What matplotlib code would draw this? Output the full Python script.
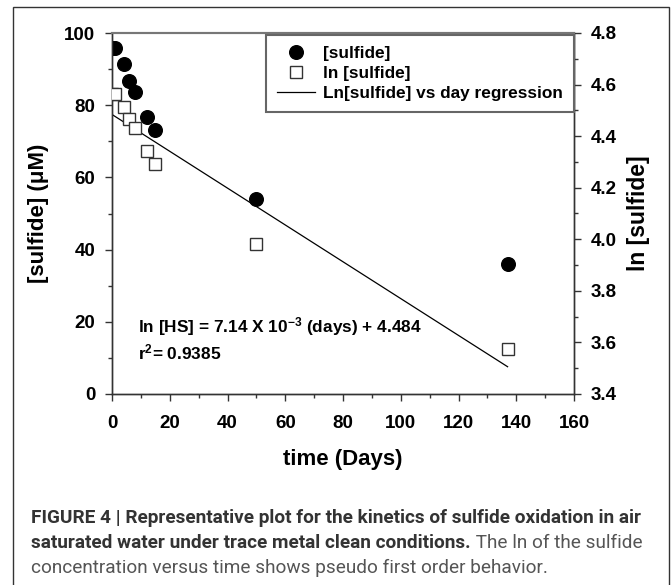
import numpy as np
import matplotlib
matplotlib.use("Agg")
import matplotlib.pyplot as plt
from matplotlib.ticker import MultipleLocator
from matplotlib.patches import Rectangle
from matplotlib.lines import Line2D

plt.rcParams['font.family'] = ['Liberation Sans', 'DejaVu Sans']
plt.rcParams['mathtext.fontset'] = 'custom'
plt.rcParams['mathtext.rm'] = 'Liberation Sans:bold'
plt.rcParams['mathtext.default'] = 'rm'

# data
days = [0, 1, 4, 6, 8, 12, 15, 50, 137]
sulfide = [95.8, 95.8, 91.3, 86.8, 83.7, 76.8, 73.1, 53.9, 35.9]
ln_sulfide = [4.562, 4.562, 4.514, 4.466, 4.430, 4.342, 4.292, 3.982, 3.574]
# regression from the annotation
slope = -7.14e-3
intercept = 4.484
fit_days = np.array([0, 137])

fig = plt.figure(figsize=(6.71, 5.85), dpi=100)
ax = fig.add_axes([112/671, 1-394/585, 462/671, 361/585])
ax2 = ax.twinx()

ax.plot(days, sulfide, 'o', color='black', ms=9.8, zorder=3)
ax2.plot(days, ln_sulfide, 's', mfc='white', mec='#333333', mew=1.0, ms=8.8, zorder=3)
ax2.plot(fit_days, intercept + slope * fit_days, '-', color='black', lw=0.9)

ax.set_xlim(0, 160)
ax.set_ylim(0, 100)
ax2.set_ylim(3.4, 4.8)
ax.xaxis.set_major_locator(MultipleLocator(20))
ax.xaxis.set_minor_locator(MultipleLocator(10))
ax.yaxis.set_major_locator(MultipleLocator(20))
ax.yaxis.set_minor_locator(MultipleLocator(10))
ax2.yaxis.set_major_locator(MultipleLocator(0.2))
ax2.yaxis.set_minor_locator(MultipleLocator(0.1))
ax2.set_yticklabels([f'{v:.1f}' for v in ax2.get_yticks()])

for a in (ax, ax2):
    a.tick_params(which='major', length=5, width=1, color='#333333', labelsize=13.5)
    a.tick_params(which='minor', length=3, width=1, color='#333333')
    for lab in a.get_xticklabels() + a.get_yticklabels():
        lab.set_fontweight('bold')
    for s in a.spines.values():
        s.set_color('#333333')
        s.set_linewidth(1)
    a.spines['top'].set_color('#777777')
    a.spines['top'].set_linewidth(1.5)
ax.tick_params(axis='x', pad=10)
ax.tick_params(axis='y', pad=7)
ax2.tick_params(axis='y', pad=7)

ax.set_xlabel('time (Days)', fontsize=16, fontweight='bold', labelpad=12)
ax.set_ylabel('[sulfide] (μM)', fontsize=16, fontweight='bold')
ax.yaxis.set_label_coords(-(112-49)/462, 0.5)
ax2.set_ylabel('ln [sulfide]', fontsize=16.5, fontweight='bold')
ax2.yaxis.set_label_coords(1+(627-574)/462, 0.5)

ax.text(9.0, 18.6, 'ln [HS] = 7.14 X 10$^{-3}$ (days) + 4.484', fontsize=12.4,
        fontweight='bold', va='center')
ax.text(9.0, 11.4, 'r$^{2}$= 0.9385', fontsize=12.4, fontweight='bold', va='center')

handles = [
    Line2D([], [], ls='none', marker='o', color='black', ms=9.8),
    Line2D([], [], ls='none', marker='s', mfc='white', mec='#333333', ms=8.8),
    Line2D([], [], color='black', lw=0.9),
]
labels = ['[sulfide]', 'ln [sulfide]', 'Ln[sulfide] vs day regression']
leg = ax2.legend(handles, labels, loc='upper right', bbox_to_anchor=(1, 1 - 2/361),
                 borderaxespad=0, fancybox=False, framealpha=1,
                 prop={'size': 12.4, 'weight': 'bold'}, handlelength=2.2,
                 handletextpad=0.47, labelspacing=0.28, borderpad=0.65)
leg.get_frame().set_edgecolor('#666666')
leg.get_frame().set_linewidth(1.5)

# outer frame of the figure panel
fig.patches.append(Rectangle((13/671, -0.05), (669-13)/671, 1.05-7/585,
                             transform=fig.transFigure, fill=False,
                             edgecolor='#333333', lw=1))

# caption
cap = dict(family=['Roboto', 'DejaVu Sans'], fontsize=13.7)
fig.text(31/671, 1-518/585, 'FIGURE 4 | Representative plot for the kinetics of sulfide oxidation in air',
         fontweight='bold', color='#333333', va='center', **cap)
t2 = fig.text(31/671, 1-543/585, 'saturated water under trace metal clean conditions.',
              fontweight='bold', color='#333333', va='center', **cap)
ax.annotate(' The ln of the sulfide', xy=(1, 0), xycoords=t2, va='bottom',
            annotation_clip=False, color='#555555', **cap)
fig.text(31/671, 1-568/585, 'concentration versus time shows pseudo first order behavior.',
         color='#555555', va='center', **cap)

fig.savefig('out.png', dpi=100)
